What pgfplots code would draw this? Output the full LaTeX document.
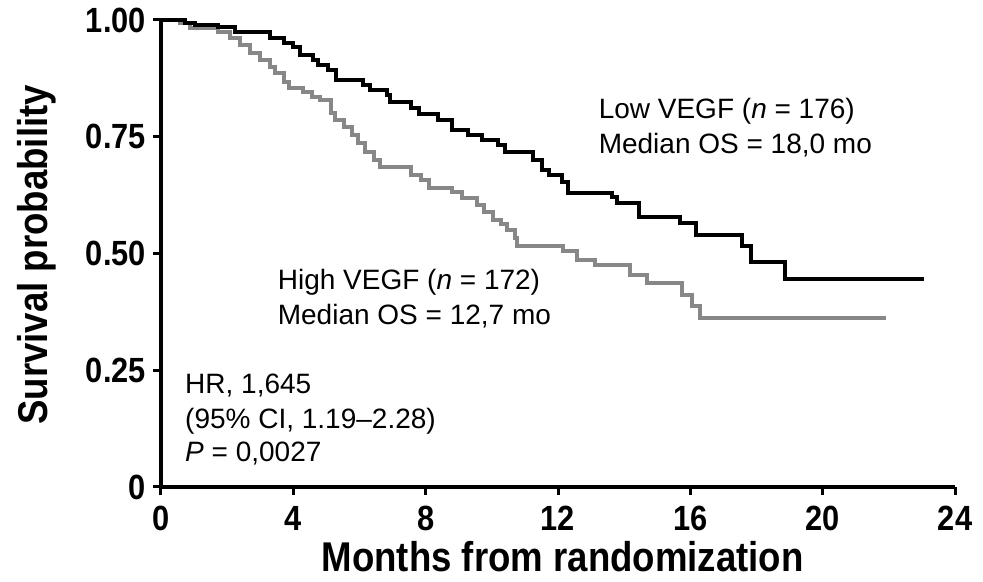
\documentclass[border=0pt]{standalone}
\usepackage{fontspec}
\setmainfont{Liberation Sans}
\newfontfamily\narrowbold[FakeStretch=0.88]{Liberation Sans Bold}
\usepackage{pgfplots}
\pgfplotsset{compat=1.18}
\definecolor{highvegf}{RGB}{135,135,135}

% Kaplan-Meier estimates: time (months), survival after the step
\pgfplotstableread{
t s
0 1.000
0.72 0.994
1.02 0.989
1.72 0.984
2.23 0.975
3.28 0.961
3.73 0.951
3.98 0.942
4.19 0.925
4.58 0.914
4.76 0.904
5.06 0.893
5.30 0.872
6.11 0.861
6.33 0.850
6.84 0.839
6.93 0.824
7.56 0.812
7.80 0.799
8.37 0.786
8.80 0.764
9.28 0.754
9.70 0.743
10.18 0.732
10.39 0.717
11.23 0.700
11.51 0.679
11.72 0.668
12.11 0.653
12.29 0.630
13.64 0.621
13.79 0.608
14.46 0.578
15.69 0.565
16.17 0.540
17.56 0.516
17.83 0.482
18.86 0.445
23.07 0.445
}\lowvegf

\pgfplotstableread{
t s
0 1.000
0.57 0.994
0.87 0.983
1.72 0.975
2.08 0.961
2.38 0.946
2.68 0.929
2.98 0.914
3.28 0.899
3.46 0.886
3.73 0.867
3.86 0.854
4.28 0.846
4.55 0.835
4.82 0.829
5.15 0.801
5.27 0.786
5.54 0.771
5.78 0.754
5.96 0.737
6.17 0.717
6.45 0.700
6.63 0.685
7.56 0.668
7.86 0.657
8.10 0.640
8.80 0.632
9.10 0.619
9.55 0.604
9.76 0.589
10.03 0.572
10.27 0.563
10.45 0.550
10.69 0.533
10.75 0.516
12.14 0.505
12.56 0.486
13.13 0.475
14.19 0.454
14.70 0.437
15.75 0.411
16.05 0.388
16.30 0.362
21.90 0.362
}\highvegf

\begin{document}
\begin{tikzpicture}
\begin{axis}[
  at={(0,0)}, anchor=south west,
  scale only axis, width=397pt, height=233.5pt,
  xmin=0, xmax=24, ymin=0, ymax=1,
  axis lines=left,
  axis line style={line width=2pt, -},
  tick align=outside,
  major tick length=4pt,
  tick style={line width=1.5pt, black},
  xtick={0,4,8,12,16,20,24},
  xticklabels={0,4,8,12,16,20,24},
  ytick={0,0.25,0.5,0.75,1},
  yticklabels={0,0.25,0.50,0.75,1.00},
  ticklabel style={font=\fontsize{17.5}{20}\narrowbold},
  xticklabel style={yshift=-2pt},
  /pgf/number format/assume math mode=true,
  xlabel={Months from randomization},
  ylabel={Survival probability},
  xlabel style={at={(axis cs:12.14,-0.182)}, anchor=base,
    font=\fontsize{20.8}{25}\narrowbold},
  ylabel style={at={(axis cs:-3.43,0.497)}, anchor=base,
    font=\fontsize{20.8}{25}\narrowbold},
  clip=false,
]
\addplot[const plot, line width=2pt, highvegf, mark=none] table[x=t, y=s] {\highvegf};
\addplot[const plot, line width=2pt, black, mark=none] table[x=t, y=s] {\lowvegf};

\begin{scope}[every node/.style={anchor=base west, inner sep=0pt,
    font=\fontsize{14}{17}\selectfont}]
\node at (axis cs:13.22,0.790) {Low VEGF (\textit{n} = 176)};
\node at (axis cs:13.22,0.715) {Median OS = 18,0 mo};
\node at (axis cs:3.52,0.422) {High VEGF (\textit{n} = 172)};
\node at (axis cs:3.52,0.347) {Median OS = 12,7 mo};
\node at (axis cs:0.72,0.201) {HR, 1,645};
\node at (axis cs:0.72,0.126) {(95\% CI, 1.19–2.28)};
\node at (axis cs:0.72,0.054) {\textit{P} = 0,0027};
\end{scope}
\end{axis}
\pgfresetboundingbox
\useasboundingbox (-80.5pt,-47.5pt) rectangle (411pt,243.5pt);
\end{tikzpicture}
\end{document}
